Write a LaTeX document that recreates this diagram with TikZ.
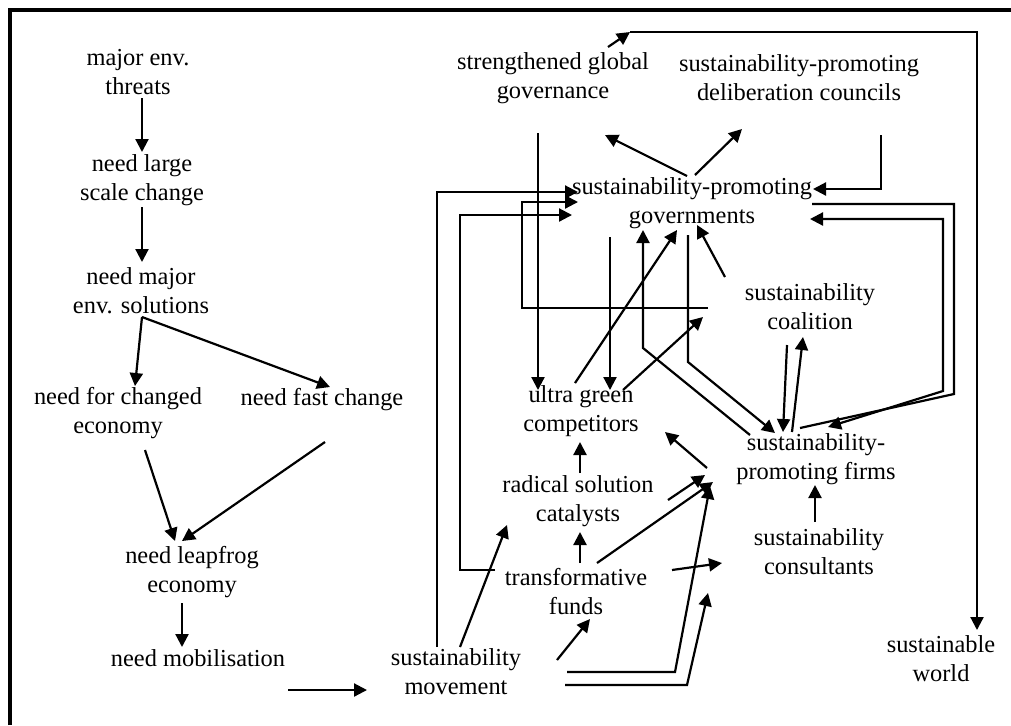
\documentclass[tikz,border=0pt]{standalone}
\usepackage{fontspec}
\setmainfont{Liberation Serif}
\usetikzlibrary{arrows.meta}

\begin{document}
\begin{tikzpicture}[
  x=0.5pt, y=-0.5pt,
  font=\fontsize{12.2}{14.5}\selectfont,
  txt/.style={inner sep=0pt, align=center},
  arr/.style={-{Triangle[length=6.5pt, width=6.5pt]}, line width=1.1pt},
  twoarr/.style={{Triangle[length=6.5pt, width=6.5pt]}-{Triangle[length=6.5pt, width=6.5pt]}, line width=1.1pt},
  plain/.style={line width=1.1pt}
]
\useasboundingbox (0,0) rectangle (1011,725);
\draw[line width=1.7pt] (10,725) -- (10,10) -- (1011,10);

% left column
\node[txt] (threats) at (138,72) {major env.\\threats};
\node[txt] (large) at (142,180) {need large\\scale change};
\node[txt] (solutions) at (141,291) {need major\\env. solutions};
\node[txt] (changed) at (118,413) {need for changed\\economy};
\node[txt] (fast) at (322,400) {need fast change};
\node[txt] (leapfrog) at (192,572) {need leapfrog\\economy};
\node[txt] (mobil) at (198,658) {need mobilisation};

% right part
\node[txt] (movement) at (456,672) {sustainability\\movement};
\node[txt] (funds) at (576,592) {transformative\\funds};
\node[txt] (catalysts) at (578,501) {radical solution\\catalysts};
\node[txt] (ultra) at (581,411) {ultra green\\competitors};
\node[txt] (gov) at (692,203) {sustainability-promoting\\governments};
\node[txt] (global) at (553,78) {strengthened global\\governance};
\node[txt] (councils) at (799,78) {sustainability-promoting\\deliberation councils};
\node[txt] (coalition) at (810,307) {sustainability\\coalition};
\node[txt] (firms) at (816,459) {sustainability-\\promoting firms};
\node[txt] (consult) at (819,552) {sustainability\\consultants};
\node[txt] (world) at (941,659) {sustainable\\world};

% connector ends
\coordinate (threats-s) at (142,98);
\coordinate (large-n) at (142,152);
\coordinate (large-s) at (142,207);
\coordinate (sol-n) at (142,262);
\coordinate (sol-s) at (142,317);
\coordinate (changed-n) at (135,386);
\coordinate (fast-w) at (330,387);
\coordinate (changed-s) at (145,450);
\coordinate (fast-s) at (325,442);
\coordinate (leap-nw) at (175,541);
\coordinate (leap-ne) at (182,541);
\coordinate (leap-s) at (182,603);
\coordinate (mobil-n) at (182,647);
\coordinate (mobil-e) at (288,690);
\coordinate (move-w) at (367,690);

\coordinate (move-n1) at (437,647);
\coordinate (move-n2) at (460,647);
\coordinate (move-ne) at (557,660);
\coordinate (move-e1) at (567,672);
\coordinate (move-c1) at (675,672);
\coordinate (move-e2) at (565,685);
\coordinate (move-c2) at (687,685);
\coordinate (gov-w1) at (578,192);
\coordinate (gov-w2) at (578,202);
\coordinate (gov-w3) at (572,215);
\coordinate (cat-sw) at (507,525);
\coordinate (funds-s) at (590,619);
\coordinate (firms-w1) at (710,486);
\coordinate (firms-w2) at (713,482);
\coordinate (firms-w3) at (705,475);
\coordinate (firms-w4) at (707,468);
\coordinate (cons-w1) at (708,593);
\coordinate (cons-w2) at (722,563);

\coordinate (funds-w) at (495,570);
\coordinate (funds-c) at (460,570);
\coordinate (funds-n) at (580,563);
\coordinate (funds-ne) at (597,563);
\coordinate (funds-e) at (672,570);
\coordinate (cat-s) at (580,532);
\coordinate (cat-n) at (580,473);
\coordinate (cat-e) at (668,500);
\coordinate (ultra-s) at (580,442);
\coordinate (ultra-e) at (665,432);
\coordinate (ultra-n1) at (538,390);
\coordinate (ultra-n2) at (610,390);
\coordinate (ultra-nw) at (575,383);
\coordinate (ultra-ne) at (623,390);

\coordinate (glob-s) at (538,133);
\coordinate (glob-ne) at (608,47);
\coordinate (glob-t) at (630,32);
\coordinate (glob-se) at (605,135);
\coordinate (coun-sw) at (742,129);
\coordinate (coun-s) at (881,135);
\coordinate (gov-s1) at (610,237);
\coordinate (gov-s2) at (677,230);
\coordinate (gov-s3) at (643,230);
\coordinate (gov-s4) at (688,235);
\coordinate (gov-s5) at (697,225);
\coordinate (gov-n1) at (687,176);
\coordinate (gov-n2) at (695,175);
\coordinate (gov-e1) at (813,189);
\coordinate (gov-e2) at (812,204);
\coordinate (gov-e3) at (810,219);
\coordinate (mid-e) at (703,317);
\coordinate (mid-r) at (708,308);
\coordinate (mid-c) at (522,202);

\coordinate (firms-l1) at (750,435);
\coordinate (firms-k1) at (643,348);
\coordinate (firms-k2) at (688,362);
\coordinate (firms-l2) at (775,433);
\coordinate (firms-n1) at (783,432);
\coordinate (firms-n2) at (792,432);
\coordinate (firms-ne1) at (800,428);
\coordinate (firms-ne2) at (828,427);
\coordinate (firms-s) at (815,485);
\coordinate (coal-s1) at (787,345);
\coordinate (coal-s2) at (803,337);
\coordinate (coal-nw) at (725,277);
\coordinate (cons-n) at (815,522);
\coordinate (r1) at (954,394);
\coordinate (r2) at (943,391);
\coordinate (world-n) at (977,630);

% left chain
\draw[arr] (threats-s) -- (large-n);
\draw[arr] (large-s) -- (sol-n);
\draw[arr] (sol-s) -- (changed-n);
\draw[arr] (sol-s) -- (fast-w);
\draw[arr] (changed-s) -- (leap-nw);
\draw[arr] (fast-s) -- (leap-ne);
\draw[arr] (leap-s) -- (mobil-n);
\draw[arr] (mobil-e) -- (move-w);

% from the movement
\draw[arr] (move-n1) |- (gov-w1);
\draw[arr] (move-n2) -- (cat-sw);
\draw[arr] (move-ne) -- (funds-s);
\draw[arr] (move-e1) -- (move-c1) -- (firms-w1);
\draw[arr] (move-e2) -- (move-c2) -- (cons-w1);

% funds, catalysts, competitors
\draw[arr] (funds-w) -- (funds-c) |- (gov-w3);
\draw[arr] (funds-n) -- (cat-s);
\draw[arr] (cat-n) -- (ultra-s);
\draw[arr] (funds-ne) -- (firms-w2);
\draw[arr] (cat-e) -- (firms-w3);
\draw[arr] (funds-e) -- (cons-w2);
\draw[arr] (firms-w4) -- (ultra-e);
\draw[arr] (glob-s) -- (ultra-n1);
\draw[arr] (gov-s1) -- (ultra-n2);
\draw[arr] (ultra-nw) -- (gov-s2);
\draw[arr] (ultra-ne) -- (mid-e);
\draw[arr] (mid-r) -| (mid-c) -- (gov-w2);

% governments
\draw[arr] (firms-l1) -- (firms-k1) -- (gov-s3);
\draw[arr] (gov-s4) -- (firms-k2) -- (firms-l2);
\draw[arr] (gov-n1) -- (glob-se);
\draw[arr] (gov-n2) -- (coun-sw);
\draw[arr] (coun-s) |- (gov-e1);
\draw[plain] (gov-e2) -| (r1) -- (firms-ne1);
\draw[twoarr] (gov-e3) -| (r2) -- (firms-ne2);
\draw[arr] (coal-nw) -- (gov-s5);
\draw[arr] (coal-s1) -- (firms-n1);
\draw[arr] (firms-n2) -- (coal-s2);
\draw[arr] (cons-n) -- (firms-s);

% to the sustainable world
\draw[arr] (glob-ne) -- (glob-t);
\draw[arr] (glob-t) -| (world-n);

\end{tikzpicture}
\end{document}
